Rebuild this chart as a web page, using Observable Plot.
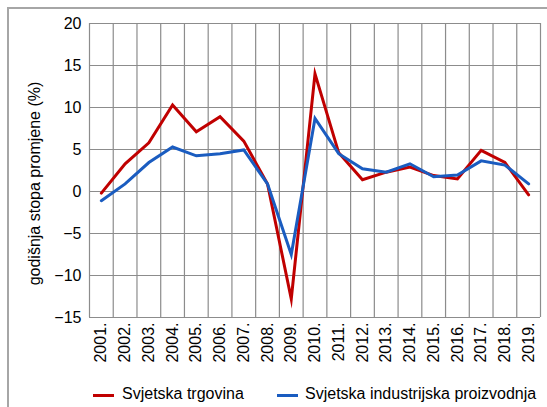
<!DOCTYPE html>
<html>
<head>
<meta charset="utf-8">
<script src="https://cdn.jsdelivr.net/npm/d3@7"></script>
<script src="https://cdn.jsdelivr.net/npm/@observablehq/plot@0.6"></script>
<style>
  html, body { margin: 0; padding: 0; background: #fff; }
  body { width: 547px; height: 407px; position: relative; overflow: hidden; font-family: "Liberation Sans", Arial, sans-serif; }
  #frame { position: absolute; left: 7px; top: 7px; width: 600px; height: 500px; border-top: 2px solid #a6a6a6; border-left: 2px solid #a6a6a6; box-sizing: border-box; }
  #chart { position: absolute; left: 0; top: 0; }
  .leg { position: absolute; top: 384px; font-size: 16px; color: #000; white-space: nowrap; line-height: 20px; }
  .sw { position: absolute; height: 3px; top: 394px; }
</style>
</head>
<body>
<div id="frame"></div>
<div id="chart"></div>
<script>
const years = [2001, 2002, 2003, 2004, 2005, 2006, 2007, 2008, 2009, 2010, 2011, 2012, 2013, 2014, 2015, 2016, 2017, 2018, 2019];
const trade = [-0.2, 3.3, 5.8, 10.3, 7.1, 8.9, 6.0, 0.9, -12.8, 14.0, 4.6, 1.4, 2.3, 2.9, 1.9, 1.5, 4.9, 3.45, -0.4];
const industry = [-1.1, 0.9, 3.45, 5.3, 4.25, 4.5, 4.95, 0.9, -7.5, 8.7, 4.5, 2.7, 2.3, 3.3, 1.75, 1.95, 3.65, 3.15, 0.9];
const seriesNames = ["Svjetska trgovina", "Svjetska industrijska proizvodnja"];
const seriesColors = ["#c00000", "#1a5cc0"];
const yTicks = [-15, -10, -5, 0, 5, 10, 15, 20];
const yLabel = "godišnja stopa promjene (%)";

const rows = [];
years.forEach((yr, i) => {
  rows.push({year: yr, value: trade[i], series: seriesNames[0]});
  rows.push({year: yr, value: industry[i], series: seriesNames[1]});
});
const boundaries = years.map(y => y - 0.5).concat([years[years.length - 1] + 0.5]);

const chart = Plot.plot({
  width: 547,
  height: 375,
  marginLeft: 89,
  marginRight: 7,
  marginTop: 23,
  marginBottom: 58,
  style: {fontFamily: "'Liberation Sans', Arial, sans-serif", fontSize: "16px", color: "#000", background: "transparent", overflow: "visible"},
  x: {domain: [years[0] - 0.5, years[years.length - 1] + 0.5]},
  y: {domain: [yTicks[0], yTicks[yTicks.length - 1]]},
  color: {domain: seriesNames, range: seriesColors},
  marks: [
    Plot.ruleY(yTicks, {stroke: "#8c8c8c", strokeWidth: 1.2}),
    Plot.ruleX(boundaries, {stroke: "#8c8c8c", strokeWidth: 1.2}),
    Plot.axisY({ticks: yTicks, tickSize: 0, tickPadding: 8, label: null, fontSize: 16}),
    Plot.axisX({ticks: years, tickFormat: d => d + ".", tickRotate: -90, tickSize: 0, tickPadding: 5, label: null, fontSize: 16}),
    Plot.text([yLabel], {text: d => d, frameAnchor: "left", textAnchor: "middle", lineAnchor: "middle", rotate: -90, dx: -55, dy: 13, fontSize: 16, fill: "#000"}),
    Plot.line(rows, {x: "year", y: "value", z: "series", stroke: "series", strokeWidth: 3, strokeLinejoin: "miter", strokeMiterlimit: 10})
  ]
});
document.getElementById("chart").appendChild(chart);

// legend
const legPos = [{sw: 93, tx: 122}, {sw: 277, tx: 305}];
seriesNames.forEach((name, i) => {
  const s = document.createElement("div");
  s.className = "sw";
  s.style.left = legPos[i].sw + "px";
  s.style.width = "21px";
  s.style.background = seriesColors[i];
  document.body.appendChild(s);
  const t = document.createElement("div");
  t.className = "leg";
  t.style.left = legPos[i].tx + "px";
  t.textContent = name;
  document.body.appendChild(t);
});
</script>
</body>
</html>
